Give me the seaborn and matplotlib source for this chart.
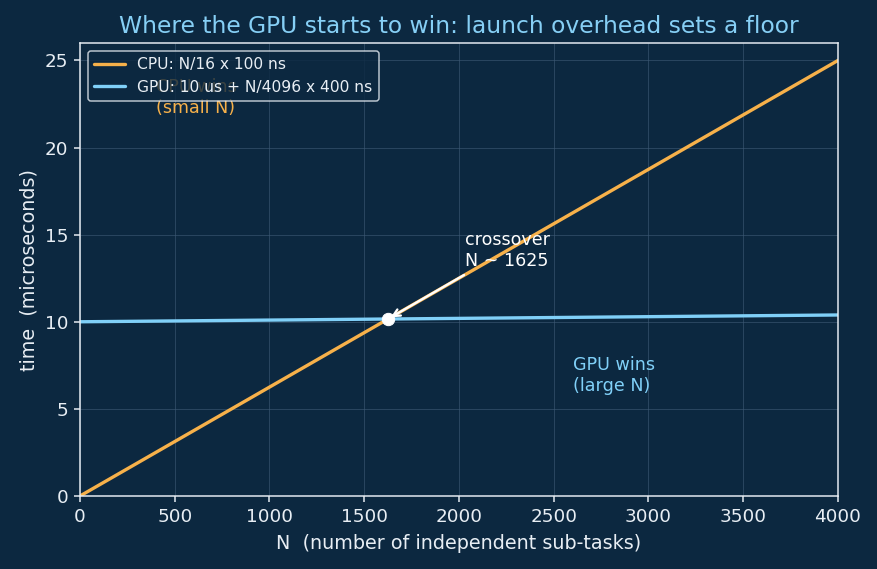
import matplotlib
matplotlib.use("Agg")
import matplotlib.pyplot as plt
import pandas as pd
import seaborn as sns

# values
n_tasks = [0, 4000]
cpu_us = [0.0, 25.0]
gpu_us = [10.0, 10.39]
cross_n = [1625]
cross_us = [10.16]

BG = "#0c2840"
FG = "#e8eef4"
CPU_COLOR = "#f7b14a"
GPU_COLOR = "#80d0f8"
TITLE_COLOR = "#86cff5"
DPI = 120

sns.set_theme(style="darkgrid")
plt.rcParams["font.family"] = ["DejaVu Sans"]

lines = pd.DataFrame(
    {
        "N": n_tasks * 2,
        "time": cpu_us + gpu_us,
        "series": ["CPU: N/16 x 100 ns"] * 2 + ["GPU: 10 us + N/4096 x 400 ns"] * 2,
    }
)

fig = plt.figure(figsize=(877 / DPI, 569 / DPI), dpi=DPI, facecolor=BG)
ax = fig.add_axes([0.0912, 0.1283, 0.8643, 0.7961])
ax.set_facecolor(BG)

sns.lineplot(
    data=lines,
    x="N",
    y="time",
    hue="series",
    palette=[CPU_COLOR, GPU_COLOR],
    linewidth=2.0,
    ax=ax,
)
sns.scatterplot(x=cross_n, y=cross_us, color="white", s=55, zorder=5,
                edgecolor="white", ax=ax, legend=False)

ax.annotate(
    "crossover\nN ~ 1625",
    xy=(cross_n[0], cross_us[0]),
    xytext=(2030, 13.0),
    color="white",
    fontsize=10.5,
    va="bottom",
    ha="left",
    arrowprops=dict(arrowstyle="->", color="white", lw=1.4),
)
ax.text(400, 21.75, "CPU wins\n(small N)", color=CPU_COLOR, fontsize=10.5,
        va="bottom", ha="left")
ax.text(2600, 5.8, "GPU wins\n(large N)", color=GPU_COLOR, fontsize=10.5,
        va="bottom", ha="left")

ax.set_xlim(0, 4000)
ax.set_ylim(0, 26)
ax.set_xticks(range(0, 4001, 500))
ax.set_yticks(range(0, 26, 5))
ax.grid(True, color="#3f5b76", linewidth=0.5, alpha=0.7)
for spine in ax.spines.values():
    spine.set_visible(True)
    spine.set_color(FG)
    spine.set_linewidth(0.9)
ax.tick_params(colors=FG, labelsize=11, length=3.5, width=0.9, left=True, bottom=True)
ax.set_xlabel("N  (number of independent sub-tasks)", color=FG, fontsize=11.5,
              labelpad=5)
ax.set_ylabel("time  (microseconds)", color=FG, fontsize=11.5)
ax.set_title("Where the GPU starts to win: launch overhead sets a floor",
             color=TITLE_COLOR, fontsize=14, pad=6)

leg = ax.legend(loc="upper left", fontsize=9.3, facecolor=BG, edgecolor=FG,
                framealpha=0.8, labelcolor=FG)
leg.get_frame().set_linewidth(0.9)

fig.savefig("out.png", dpi=DPI, facecolor=BG)
